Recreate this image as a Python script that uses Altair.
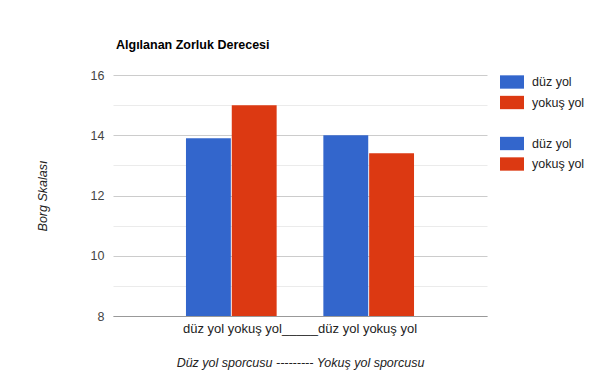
import altair as alt
import pandas as pd

categories = ["düz yol yokuş yol_____düz yol yokuş yol"]
series_keys = ["s1", "s2", "s3", "s4", "s5"]
series_names = ["düz yol", "yokuş yol", "", "düz yol", "yokuş yol"]
values = [13.9, 15.0, None, 14.0, 13.4]
colors = ["#3366cc", "#dc3912", "transparent", "#3366cc", "#dc3912"]

df = pd.DataFrame({
    "category": categories * len(series_keys),
    "series": series_keys,
    "value": values,
})

FONT = "Liberation Sans"
label_expr = " : ".join(
    f"datum.value == '{k}' ? '{n}'" for k, n in zip(series_keys, series_names)
) + " : ''"

bars = alt.Chart(df).mark_bar().encode(
    x=alt.X("category:N",
            scale=alt.Scale(paddingOuter=0.32, paddingInner=0),
            axis=alt.Axis(title="Düz yol sporcusu --------- Yokuş yol sporcusu",
                          titleFontStyle="italic", titleFontWeight="normal",
                          titleFont=FONT, titleFontSize=12.5, titleColor="#222",
                          titlePadding=21,
                          labelAngle=0, labelFont=FONT, labelFontSize=13,
                          labelColor="#222", labelPadding=6, labelLimit=0,
                          ticks=False, domain=True, domainColor="#999", grid=False)),
    xOffset=alt.XOffset("series:N", scale=alt.Scale(domain=series_keys, paddingInner=0.02, paddingOuter=0)),
    y=alt.Y("value:Q",
            scale=alt.Scale(domain=[8, 16], zero=False, nice=False),
            axis=alt.Axis(title="Borg Skalası", titleFontStyle="italic",
                          titleFontWeight="normal", titleFont=FONT, titleFontSize=12.5,
                          titleColor="#222", titlePadding=41,
                          values=[8, 9, 10, 11, 12, 13, 14, 15, 16],
                          labelExpr="datum.value % 2 == 0 ? datum.label : ''",
                          labelFont=FONT, labelFontSize=12.5, labelColor="#444",
                          labelPadding=9, ticks=False, domain=False,
                          gridColor={"condition": {"test": "datum.value % 2 == 0", "value": "#cccccc"},
                                     "value": "#ebebeb"})),
    y2=alt.datum(8),
    color=alt.Color("series:N",
                    scale=alt.Scale(domain=series_keys, range=colors),
                    legend=alt.Legend(title=None, labelExpr=label_expr,
                                      symbolType="M-1.8,-1L1.8,-1L1.8,1L-1.8,1Z",
                                      symbolSize=178, symbolStrokeWidth=0,
                                      labelFont=FONT, labelFontSize=12.5, labelColor="#222",
                                      rowPadding=6.5, offset=18, padding=0,
                                      labelOffset=13)),
).properties(
    width=374,
    height=241,
    title=alt.TitleParams("Algılanan Zorluk Derecesi", anchor="start", frame="group",
                          font=FONT, fontSize=12.5, fontWeight="bold", color="#000",
                          dx=3, offset=18),
    autosize=alt.AutoSizeParams(type="none"),
    padding={"left": 105, "top": 67, "right": 105, "bottom": 66},
).configure_view(stroke=None)

chart = bars
chart.save("out.html", embed_options={"renderer": "svg", "actions": False})
